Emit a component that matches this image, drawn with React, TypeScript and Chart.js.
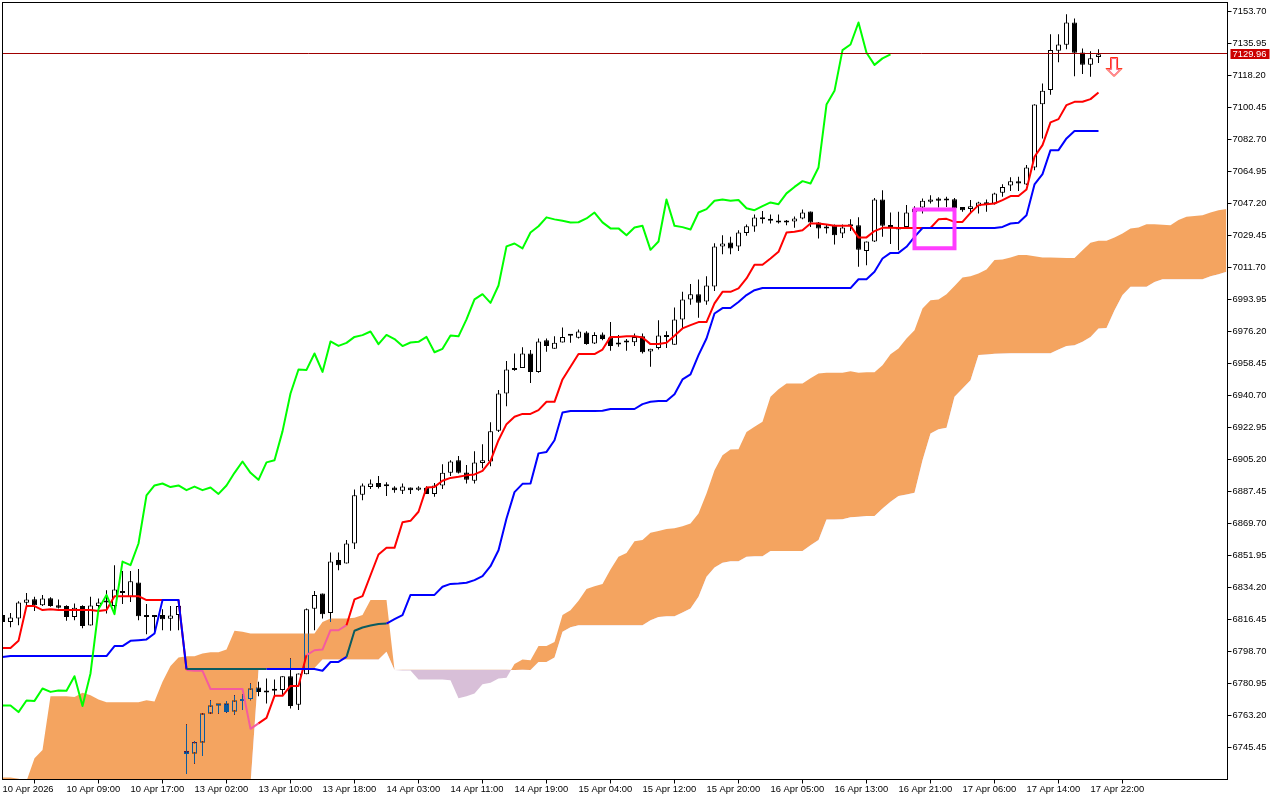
import React, { useEffect, useRef } from "react";
import { Chart, registerables } from "chart.js";

Chart.register(...registerables);

const timeLabels = ["10 Apr 2026","10 Apr 09:00","10 Apr 17:00","13 Apr 02:00","13 Apr 10:00","13 Apr 18:00","14 Apr 03:00","14 Apr 11:00","14 Apr 19:00","15 Apr 04:00","15 Apr 12:00","15 Apr 20:00","16 Apr 05:00","16 Apr 13:00","16 Apr 21:00","17 Apr 06:00","17 Apr 14:00","17 Apr 22:00"];
const priceTicks = [7153.70,7135.95,7118.20,7100.45,7082.70,7064.95,7047.20,7029.45,7011.70,6993.95,6976.20,6958.45,6940.70,6922.95,6905.20,6887.45,6869.70,6851.95,6834.20,6816.45,6798.70,6780.95,6763.20,6745.45];

const opens = [
6818.9,6815.1,6817.0,6825.7,6827.7,6824.4,6828.3,6824.4,6823.9,6817.9,
6823.9,6813.1,6824.0,6826.6,6823.9,6831.8,6829.0,6837.0,6818.7,6818.3,
6818.9,6816.8,6818.9,6743.4,6742.1,6748.2,6764.3,6769.5,6769.9,6765.4,
6772.1,6772.4,6778.8,6776.0,6777.4,6777.4,6785.0,6769.1,6786.1,6822.4,
6830.9,6820.1,6849.4,6847.5,6858.6,6885.6,6890.0,6892.1,6890.4,6889.7,
6887.8,6889.7,6888.4,6889.5,6886.1,6890.8,6897.8,6904.8,6898.0,6893.4,
6903.3,6904.1,6921.1,6941.8,6955.7,6956.0,6964.0,6953.8,6971.4,6966.6,
6970.1,6973.8,6972.7,6975.7,6969.6,6974.6,6972.9,6969.0,6970.1,6970.3,
6973.5,6965.1,6967.1,6973.1,6968.8,6982.9,6994.0,6996.9,6992.9,7001.2,
7023.4,7025.6,7023.4,7030.9,7034.5,7039.5,7038.4,7037.2,7036.7,7037.2,
7038.9,7042.8,7036.7,7034.1,7034.8,7030.6,7034.6,7035.2,7020.9,7026.1,
7049.4,7034.8,7033.4,7034.2,7042.4,7045.0,7048.1,7050.0,7048.8,7049.6,
7045.3,7044.2,7045.7,7047.8,7047.2,7053.1,7057.2,7059.6,7057.8,7067.2,
7102.3,7110.1,7131.9,7135.2,7147.6,7131.0,7124.1,7128.4];
const highs = [
6820.5,6820.0,6826.6,6831.2,6829.0,6830.0,6828.8,6827.6,6824.4,6825.3,
6824.4,6829.0,6828.1,6832.7,6846.6,6843.3,6843.3,6844.4,6825.0,6818.5,
6822.2,6823.9,6826.2,6758.2,6749.0,6764.3,6771.7,6769.5,6771.2,6774.5,
6775.0,6781.0,6781.9,6783.7,6783.2,6785.0,6794.8,6786.5,6822.6,6832.2,
6830.9,6853.6,6853.6,6860.5,6888.6,6891.9,6894.1,6896.0,6892.6,6890.4,
6891.9,6889.7,6890.4,6890.4,6892.2,6902.6,6904.8,6907.1,6902.1,6909.8,
6913.7,6925.9,6943.7,6959.8,6964.0,6967.5,6965.9,6972.3,6972.3,6973.6,
6978.4,6974.2,6977.3,6976.4,6975.8,6975.7,6981.4,6974.2,6972.0,6975.1,
6975.1,6966.6,6982.5,6976.4,6989.5,6998.2,7002.5,7005.1,7006.9,7025.2,
7029.6,7028.7,7032.4,7035.6,7041.1,7043.0,7041.1,7041.1,7038.0,7040.0,
7043.9,7042.8,7037.0,7035.6,7035.6,7035.6,7038.5,7039.6,7026.1,7050.3,
7054.6,7042.2,7042.6,7046.3,7045.7,7050.0,7051.8,7050.6,7050.9,7050.2,
7045.3,7049.1,7048.1,7049.4,7053.1,7057.9,7061.7,7062.0,7068.5,7102.3,
7113.8,7141.1,7141.1,7152.2,7149.8,7133.2,7131.7,7132.8];
const lows = [
6813.9,6812.2,6813.3,6823.5,6821.1,6823.9,6823.5,6822.6,6815.7,6816.1,
6811.6,6813.1,6822.6,6819.8,6818.9,6825.0,6826.2,6816.1,6808.3,6808.7,
6810.5,6810.2,6810.5,6730.7,6736.6,6740.8,6764.3,6764.3,6764.7,6763.8,
6766.2,6771.7,6773.9,6769.9,6773.5,6774.5,6767.1,6766.2,6786.1,6810.5,
6817.0,6815.1,6843.8,6847.5,6855.6,6882.6,6888.9,6889.1,6885.0,6886.7,
6886.0,6886.0,6887.8,6886.1,6884.5,6888.9,6896.0,6897.5,6891.9,6891.9,
6900.4,6901.5,6920.5,6934.8,6954.4,6956.0,6947.7,6953.3,6964.9,6966.6,
6970.1,6969.9,6972.3,6968.8,6969.2,6971.4,6965.5,6967.7,6965.5,6968.1,
6964.0,6956.6,6966.2,6967.1,6968.8,6977.9,6991.0,6983.8,6991.0,6998.7,
7019.1,7019.1,7020.9,7029.3,7031.5,7036.1,7036.1,7036.1,7035.2,7033.7,
7038.5,7034.2,7027.8,7030.6,7024.5,7028.1,7031.9,7012.1,7013.0,7025.9,
7028.7,7024.7,7021.3,7034.2,7040.2,7041.7,7047.2,7045.0,7045.2,7043.5,
7042.6,7041.8,7041.7,7042.6,7046.7,7050.9,7054.2,7054.2,7057.4,7065.7,
7083.3,7107.5,7125.6,7132.8,7117.8,7119.0,7117.5,7125.2];
const closes = [
6815.1,6817.6,6825.9,6827.6,6824.4,6828.1,6824.0,6822.9,6817.9,6822.9,
6812.8,6824.2,6825.9,6825.9,6833.1,6831.2,6837.6,6818.3,6817.9,6817.9,
6816.6,6818.7,6823.9,6741.9,6748.4,6764.3,6768.8,6768.8,6765.1,6771.5,
6771.3,6778.2,6776.3,6777.1,6776.9,6785.0,6768.5,6786.5,6822.2,6830.1,
6819.4,6848.6,6846.6,6858.6,6885.3,6890.8,6891.9,6889.9,6890.8,6888.2,
6890.2,6888.2,6889.7,6886.1,6890.8,6897.8,6904.1,6897.8,6893.9,6903.6,
6904.8,6920.8,6941.8,6955.1,6954.9,6964.0,6953.8,6970.7,6968.2,6969.9,
6973.2,6974.2,6976.2,6969.2,6974.3,6972.0,6968.1,6970.1,6970.5,6973.2,
6964.7,6966.6,6974.0,6973.5,6982.9,6994.0,6996.9,6992.1,7001.7,7023.4,
7025.0,7022.3,7031.1,7034.6,7039.5,7038.4,7037.6,7036.7,7036.8,7038.9,
7042.2,7036.7,7033.4,7033.4,7029.6,7033.9,7034.8,7021.5,7026.1,7049.4,
7034.8,7034.1,7032.8,7042.2,7044.1,7048.7,7049.4,7048.7,7049.1,7044.6,
7043.5,7045.7,7047.8,7046.8,7052.8,7056.4,7059.6,7058.3,7067.2,7102.1,
7109.7,7132.3,7135.4,7147.6,7130.8,7124.1,7127.7,7129.96];
const tenkan = [
6800.7,6800.7,6804.6,6823.9,6823.9,6821.7,6822.2,6821.7,6821.7,6821.7,
6821.7,6821.7,6821.2,6821.7,6829.4,6829.4,6829.4,6829.4,6827.2,6827.2,
6827.2,6827.2,6827.2,6788.5,6788.0,6788.0,6777.9,6777.9,6777.9,6777.9,
6777.9,6755.8,6758.8,6761.9,6774.1,6774.1,6779.6,6779.6,6796.7,6799.4,
6799.8,6810.5,6810.5,6813.3,6827.6,6829.4,6841.0,6852.5,6856.2,6856.2,
6870.4,6871.2,6876.2,6889.7,6890.0,6893.4,6895.0,6895.6,6896.4,6896.9,
6898.9,6904.4,6915.9,6924.8,6928.9,6930.5,6930.5,6932.6,6937.2,6937.2,
6949.6,6956.6,6963.7,6963.7,6963.7,6966.2,6973.2,6973.2,6973.6,6973.6,
6972.9,6969.2,6969.3,6969.9,6973.8,6977.9,6979.7,6981.4,6981.4,6991.8,
6998.2,6998.2,7000.1,7005.6,7013.2,7013.2,7016.7,7020.4,7031.1,7031.5,
7032.4,7036.1,7036.1,7035.6,7034.8,7034.8,7034.8,7028.4,7028.4,7031.9,
7033.7,7033.7,7033.6,7033.6,7033.6,7033.6,7033.6,7038.4,7038.7,7037.0,
7037.0,7042.0,7046.3,7046.8,7047.2,7049.1,7051.3,7051.3,7055.0,7073.1,
7079.6,7092.2,7094.0,7101.8,7103.6,7103.6,7105.1,7108.8];
const kijun = [
6795.7,6796.2,6796.2,6796.2,6796.2,6796.2,6796.2,6796.2,6796.2,6796.2,
6796.2,6796.2,6796.2,6796.2,6801.7,6801.7,6804.6,6805.0,6805.4,6808.7,
6827.2,6827.2,6827.2,6789.0,6789.0,6789.0,6789.0,6789.0,6789.0,6789.0,
6789.0,6789.0,6789.0,6789.0,6789.0,6789.0,6789.0,6789.0,6789.0,6789.0,
6788.0,6792.9,6792.9,6795.7,6810.2,6812.0,6813.1,6814.0,6814.2,6816.6,
6818.9,6830.1,6830.1,6830.1,6830.1,6834.6,6836.2,6836.4,6836.8,6838.3,
6840.5,6846.0,6854.9,6872.5,6887.1,6891.7,6891.9,6908.6,6909.4,6915.9,
6931.3,6932.1,6932.1,6932.1,6932.1,6932.2,6933.2,6933.2,6933.2,6933.2,
6935.9,6937.2,6937.6,6937.6,6941.4,6949.6,6952.4,6963.1,6972.3,6986.2,
6989.2,6989.2,6992.6,6996.4,6999.1,7000.3,7000.3,7000.3,7000.3,7000.3,
7000.3,7000.3,7000.3,7000.3,7000.3,7000.3,7000.3,7005.2,7005.2,7009.3,
7016.7,7019.8,7019.8,7023.2,7028.7,7033.6,7033.6,7033.6,7033.6,7033.6,
7033.6,7033.6,7033.6,7033.6,7033.6,7034.2,7036.1,7036.5,7040.7,7057.8,
7063.5,7076.8,7076.8,7083.3,7087.4,7087.4,7087.4,7087.4];
const chikou = [
6768.8,6768.8,6765.1,6771.5,6771.3,6778.2,6776.3,6777.1,6776.9,6785.0,
6768.5,6786.5,6822.2,6830.1,6819.4,6848.6,6846.6,6858.6,6885.3,6890.8,
6891.9,6889.9,6890.8,6888.2,6890.2,6888.2,6889.7,6886.1,6890.8,6897.8,
6904.1,6897.8,6893.9,6903.6,6904.8,6920.8,6941.8,6955.1,6954.9,6964.0,
6953.8,6970.7,6968.2,6969.9,6973.2,6974.2,6976.2,6969.2,6974.3,6972.0,
6968.1,6970.1,6970.5,6973.2,6964.7,6966.6,6974.0,6973.5,6982.9,6994.0,
6996.9,6992.1,7001.7,7023.4,7025.0,7022.3,7031.1,7034.6,7039.5,7038.4,
7037.6,7036.7,7036.8,7038.9,7042.2,7036.7,7033.4,7033.4,7029.6,7033.9,
7034.8,7021.5,7026.1,7049.4,7034.8,7034.1,7032.8,7042.2,7044.1,7048.7,
7049.4,7048.7,7049.1,7044.6,7043.5,7045.7,7047.8,7046.8,7052.8,7056.4,
7059.6,7058.3,7067.2,7102.1,7109.7,7132.3,7135.4,7147.6,7130.8,7124.1,
7127.7,7129.96];
const senkouA = [
6728.8,6728.8,6728.1,6726.8,6739.5,6744.0,6773.9,6773.9,6773.9,6773.4,
6775.8,6774.5,6772.1,6770.6,6770.6,6770.6,6770.6,6770.6,6771.7,6771.0,
6781.9,6790.6,6795.4,6796.1,6796.1,6797.6,6798.3,6798.3,6799.8,6810.2,
6809.6,6808.7,6808.7,6808.7,6808.7,6808.7,6808.7,6808.7,6808.7,6808.7,
6815.1,6817.0,6817.0,6817.0,6817.4,6818.9,6827.2,6827.2,6827.2,6788.4,
6788.2,6788.2,6783.2,6783.2,6783.2,6783.2,6782.8,6772.7,6773.9,6775.4,
6780.6,6781.3,6783.7,6784.1,6791.7,6794.3,6793.9,6801.7,6801.7,6804.0,
6818.9,6821.6,6826.8,6833.3,6834.9,6836.1,6844.2,6851.2,6853.4,6859.9,
6860.5,6864.5,6865.6,6866.6,6867.0,6868.2,6869.7,6875.3,6886.4,6899.3,
6907.6,6910.8,6910.9,6920.5,6923.3,6926.1,6940.0,6944.1,6947.4,6947.4,
6947.4,6950.2,6952.9,6953.3,6953.3,6953.3,6954.2,6953.3,6953.6,6953.6,
6957.5,6963.6,6966.8,6972.3,6976.9,6989.0,6993.6,6994.0,6996.8,7001.4,
7006.2,7006.9,7008.4,7010.6,7015.8,7016.2,7017.3,7018.6,7018.6,7018.0,
7017.3,7017.3,7017.1,7016.9,7016.9,7021.3,7025.4,7026.5,7026.5,7028.4,
7030.6,7033.4,7033.9,7035.7,7035.7,7035.4,7035.2,7038.0,7039.8,7040.2,
7040.7,7042.2,7043.5,7044.1];
const senkouB = [
6721.8,6721.8,6721.8,6721.8,6721.8,6721.8,6721.8,6721.8,6721.8,6721.8,
6721.8,6721.8,6721.8,6721.8,6721.8,6721.8,6721.8,6721.8,6721.8,6721.8,
6721.8,6721.8,6721.8,6721.8,6721.8,6721.8,6721.8,6721.8,6721.8,6721.8,
6721.8,6725.1,6788.4,6789.1,6789.1,6789.1,6789.1,6789.1,6789.1,6789.5,
6794.3,6794.3,6794.3,6794.3,6794.3,6794.3,6794.3,6794.3,6798.5,6788.4,
6788.6,6788.6,6788.6,6788.6,6788.6,6788.6,6788.6,6788.6,6788.6,6788.6,
6788.6,6788.6,6788.6,6788.6,6788.5,6788.6,6788.5,6792.9,6792.9,6795.4,
6809.6,6812.2,6813.3,6813.3,6813.3,6813.3,6813.3,6813.3,6813.3,6813.3,
6813.3,6816.1,6817.9,6818.3,6818.3,6820.4,6822.6,6829.0,6840.1,6845.3,
6847.9,6848.8,6848.8,6851.2,6851.6,6851.6,6854.4,6854.4,6854.4,6854.4,
6854.4,6857.7,6860.5,6871.9,6871.9,6872.1,6873.1,6873.4,6873.8,6873.9,
6878.0,6881.7,6884.9,6885.8,6886.7,6904.8,6919.6,6922.0,6922.8,6940.0,
6944.6,6949.2,6963.1,6963.5,6963.8,6964.0,6964.2,6964.2,6964.2,6964.2,
6964.2,6964.2,6966.2,6968.1,6968.6,6970.5,6973.2,6977.9,6978.2,6988.0,
6996.4,7001.0,7001.0,7001.0,7003.7,7005.2,7005.2,7005.2,7005.2,7005.2,
7005.2,7006.9,7008.0,7009.3];

const priceLabel = "7129.96";
const priceLevel = 7130.4;
const boxBars = [114, 119];
const boxPrices = [7043.9, 7022.4];
const arrowBar = 138.94;
const arrowPrice = 7122.9;

const xMax = 153.125;
const yMax = 7158.69;
const yMin = 6727.7;
const tickFont = { family: "'Liberation Sans', Arial, sans-serif", size: 9.4 };

const series = (values: number[]) => values.map((y, x) => ({ x, y }));

const inCloud = (values: number[], ctx: any) => {
  const a = ctx.p0DataIndex;
  const b = ctx.p1DataIndex;
  const v = (values[a] + values[b]) / 2;
  const u = (senkouA[a] + senkouA[b]) / 2;
  const l = (senkouB[a] + senkouB[b]) / 2;
  return v < Math.max(u, l) && v > Math.min(u, l);
};

function makeArrow() {
  const c = document.createElement("canvas");
  c.width = 18;
  c.height = 20;
  const g = c.getContext("2d")!;
  const outline = (inset: number) => {
    g.beginPath();
    g.moveTo(5.5 + inset, 0.5 + inset);
    g.lineTo(12.5 - inset, 0.5 + inset);
    g.lineTo(12.5 - inset, 11.5 + inset);
    g.lineTo(17 - inset * 2.4, 11.5 + inset);
    g.lineTo(9, 19.5 - inset * 1.4);
    g.lineTo(1 + inset * 2.4, 11.5 + inset);
    g.lineTo(5.5 + inset, 11.5 + inset);
    g.closePath();
  };
  outline(0);
  g.fillStyle = "#ffffff";
  g.fill();
  g.lineWidth = 1;
  g.strokeStyle = "#ff2a10";
  g.stroke();
  outline(1);
  g.strokeStyle = "#ff6a8a";
  g.stroke();
  return c;
}

const stagePlugin = {
  id: "stage",
  beforeDraw(chart: any) {
    const { ctx, width, height } = chart;
    ctx.save();
    ctx.fillStyle = "#ffffff";
    ctx.fillRect(0, 0, width, height);
    ctx.restore();
  },
  afterDatasetDraw(chart: any, args: any) {
    const label = chart.data.datasets[args.index].label;
    if (label === "SenkouB") chart.ctx.globalCompositeOperation = "difference";
    if (label === "SenkouA") chart.ctx.globalCompositeOperation = "source-over";
  },
  afterDraw(chart: any) {
    const { ctx, chartArea: a, scales } = chart;
    ctx.save();
    ctx.strokeStyle = "#000000";
    ctx.lineWidth = 1;
    ctx.strokeRect(a.left, a.top, a.right - a.left, a.bottom - a.top);
    const y = Math.floor(scales.y.getPixelForValue(priceLevel));
    ctx.fillStyle = "#cc0000";
    ctx.fillRect(a.right + 3, y - 4, 39, 10);
    ctx.fillStyle = "#ffffff";
    ctx.font = `${tickFont.size}px ${tickFont.family}`;
    ctx.textBaseline = "middle";
    ctx.textAlign = "left";
    ctx.fillText(priceLabel, a.right + 5, y + 1);
    ctx.restore();
  },
};

export default function App() {
  const ref = useRef<HTMLCanvasElement>(null);
  useEffect(() => {
    document.body.style.margin = "0";
    const bodyTop = closes.map((c, i) => Math.max(c, opens[i]));
    const bodyBottom = closes.map((c, i) => Math.min(c, opens[i]));
    const bodyFill = closes.map((c, i) => (c >= opens[i] ? "#ffffff" : "#000000"));
    const lineBase = { type: "line", pointRadius: 0, tension: 0, borderWidth: 2, fill: false, borderJoinStyle: "round" };
    const chart = new Chart(ref.current!, {
      type: "bar",
      data: {
        datasets: [
          {
            label: "Wick",
            order: 10,
            data: highs.map((h, x) => ({ x, y: [lows[x], h] })),
            backgroundColor: "#000000",
            barThickness: 1,
            grouped: false,
            minBarLength: 1,
            inflateAmount: 0,
            borderWidth: 0,
          },
          {
            label: "Body",
            order: 9,
            data: bodyTop.map((t, x) => ({ x, y: [bodyBottom[x], t] })),
            backgroundColor: bodyFill,
            borderColor: "#000000",
            borderWidth: 1,
            borderSkipped: false,
            barThickness: 5,
            grouped: false,
            minBarLength: 2,
            inflateAmount: 0,
          },
          {
            ...lineBase,
            label: "Tenkan",
            order: 6.8,
            data: series(tenkan),
            borderColor: "#ff0000",
            segment: { borderColor: (ctx: any) => (inCloud(tenkan, ctx) ? "#F45B9F" : undefined) },
          },
          { ...lineBase, label: "SenkouB", order: 7.5, data: series(senkouB), borderColor: "rgba(0,0,0,0)", borderWidth: 0 },
          {
            ...lineBase,
            label: "Kijun",
            order: 6.5,
            data: series(kijun),
            borderColor: "#0000ff",
            segment: { borderColor: (ctx: any) => (inCloud(kijun, ctx) ? "#0B5B60" : undefined) },
          },
          {
            ...lineBase,
            label: "SenkouA",
            order: 7,
            data: series(senkouA),
            borderColor: "rgba(0,0,0,0)",
            borderWidth: 0,
            fill: { target: 3, above: "#0B5B9F", below: "#274027" },
          },
          { ...lineBase, label: "Chikou", order: 5, data: series(chikou), borderColor: "#00ff00" },
          {
            ...lineBase,
            label: "Price",
            order: 4,
            data: [{ x: 0, y: priceLevel }, { x: xMax, y: priceLevel }],
            borderColor: "#a00000",
            borderWidth: 1,
          },
          {
            ...lineBase,
            label: "Box",
            order: 3,
            data: [
              { x: boxBars[0], y: boxPrices[0] },
              { x: boxBars[1], y: boxPrices[0] },
              { x: boxBars[1], y: boxPrices[1] },
              { x: boxBars[0], y: boxPrices[1] },
              { x: boxBars[0], y: boxPrices[0] },
            ],
            borderColor: "#ff3dff",
            borderWidth: 4,
            borderCapStyle: "square",
            borderJoinStyle: "miter",
          },
          {
            type: "line",
            label: "Arrow",
            order: 2,
            data: [{ x: arrowBar, y: arrowPrice }],
            showLine: false,
            pointRadius: 10,
            pointStyle: makeArrow(),
          },
        ] as any,
      },
      options: {
        responsive: false,
        animation: false,
        devicePixelRatio: 1,
        layout: { autoPadding: false, padding: { left: 2.5, top: 2.5, right: 0, bottom: 0 } },
        plugins: {
          legend: { display: false },
          tooltip: { enabled: false },
          title: { display: false },
          filler: { drawTime: "beforeDatasetDraw", propagate: false },
        },
        scales: {
          x: {
            type: "linear",
            offset: false,
            min: 0,
            max: xMax,
            afterBuildTicks: (s: any) => {
              s.ticks = timeLabels.map((_, k) => ({ value: k * 8 }));
            },
            afterFit: (s: any) => {
              s.height = 20.5;
              s.paddingLeft = 0;
              s.paddingRight = 0;
            },
            grid: { drawOnChartArea: false, drawTicks: true, tickLength: 4, tickColor: "#000000" },
            border: { display: false },
            ticks: {
              autoSkip: false,
              maxRotation: 0,
              minRotation: 0,
              align: "start",
              padding: 0,
              color: "#000000",
              font: tickFont,
              callback: (_v: any, i: number) => timeLabels[i],
            },
          },
          y: {
            type: "linear",
            position: "right",
            min: yMin,
            max: yMax,
            afterBuildTicks: (s: any) => {
              s.ticks = priceTicks.map((value) => ({ value }));
            },
            afterFit: (s: any) => {
              s.width = 52.5;
              s.paddingTop = 0;
              s.paddingBottom = 0;
            },
            grid: { drawOnChartArea: false, drawTicks: true, tickLength: 4, tickColor: "#000000" },
            border: { display: false },
            ticks: {
              autoSkip: false,
              padding: 1,
              color: "#000000",
              font: tickFont,
              callback: (v: any) => Number(v).toFixed(2),
            },
          },
        },
      } as any,
      plugins: [stagePlugin],
    } as any);
    return () => chart.destroy();
  }, []);
  return (
    <div style={{ position: "fixed", left: 0, top: 0, width: 1280, height: 800, background: "#fff" }}>
      <canvas ref={ref} width={1280} height={800} style={{ display: "block" }} />
    </div>
  );
}
